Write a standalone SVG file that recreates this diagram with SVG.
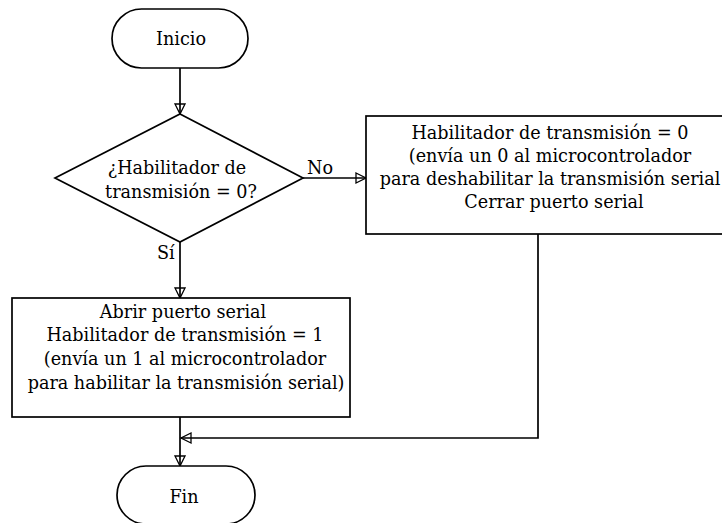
<svg xmlns="http://www.w3.org/2000/svg" width="722" height="523" viewBox="0 0 722 523">
<defs>
<style>
.shape{fill:#fff;stroke:#000;stroke-width:1.7}
.line{fill:none;stroke:#000;stroke-width:1.7}
.lbl{text-anchor:start}
</style>
<marker id="arr" markerWidth="14" markerHeight="14" refX="11" refY="6" orient="auto" markerUnits="userSpaceOnUse">
<path d="M1,1 L11,6 L1,11 Z" fill="none" stroke="#000" stroke-width="1.3"/>
</marker>
</defs>
<rect width="722" height="523" fill="#fff"/>
<g font-family="DejaVu Serif, serif" font-size="17.6" fill="#000" text-anchor="middle">
<g id="connectors">
<path class="line" d="M180,68 V114" marker-end="url(#arr)"/>
<path class="line" d="M303,178 H366" marker-end="url(#arr)"/>
<path class="line" d="M180,242 V298" marker-end="url(#arr)"/>
<path class="line" d="M180,417 V466" marker-end="url(#arr)"/>
<path class="line" d="M538,234 V438 H181" marker-end="url(#arr)"/>
<text class="lbl" x="307" y="174">No</text>
<text class="lbl" x="157" y="259">Sí</text>
</g>
<g id="inicio">
<rect class="shape" x="112" y="9" width="136" height="59" rx="29.5"/>
<text x="181" y="45">Inicio</text>
</g>
<g id="decision">
<path class="shape" d="M180,114 L303,178 L180,242 L55,178 Z"/>
<text x="177" y="174">¿Habilitador de</text>
<text x="181" y="198">transmisión = 0?</text>
</g>
<g id="deshabilitar">
<rect class="shape" x="366" y="116" width="362" height="118"/>
<text x="550" y="139">Habilitador de transmisión = 0</text>
<text x="550" y="162">(envía un 0 al microcontrolador</text>
<text x="550" y="185">para deshabilitar la transmisión serial</text>
<text x="554" y="208">Cerrar puerto serial</text>
</g>
<g id="habilitar">
<rect class="shape" x="12" y="298" width="338" height="119"/>
<text x="183" y="318">Abrir puerto serial</text>
<text x="185" y="341">Habilitador de transmisión = 1</text>
<text x="185" y="365">(envía un 1 al microcontrolador</text>
<text x="186" y="389">para habilitar la transmisión serial)</text>
</g>
<g id="fin">
<rect class="shape" x="117" y="466" width="138" height="58" rx="29"/>
<text x="184" y="503">Fin</text>
</g>
</g>
</svg>
